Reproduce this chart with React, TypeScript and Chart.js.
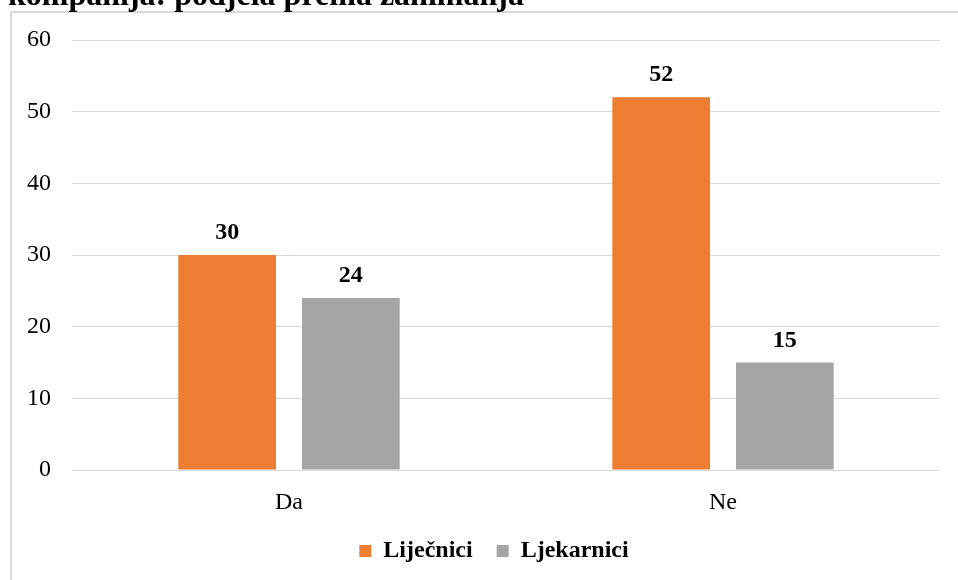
import { useEffect, useRef } from "react";
import { Chart, registerables } from "chart.js";

Chart.register(...registerables);

const titleText = "kompanija: podjela prema zanimanja";
const categories = ["Da", "Ne"];
const seriesNames = ["Liječnici", "Ljekarnici"];
const lijecnici = [30, 52];
const ljekarnici = [24, 15];
const seriesColors = ["#ED7D31", "#A5A5A5"];
const yMin = 0;
const yMax = 60;
const yStep = 10;

const FONT = '"Liberation Serif", "Times New Roman", serif';
const LEGEND_SHIFT = 24;

const framePlugin = {
  id: "frameAndTitle",
  beforeDraw(chart: any) {
    const ctx = chart.ctx;
    ctx.save();
    ctx.fillStyle = "#ffffff";
    ctx.fillRect(0, 0, chart.width, chart.height);
    ctx.strokeStyle = "#d9d9d9";
    ctx.lineWidth = 2;
    ctx.beginPath();
    ctx.moveTo(11, chart.height);
    ctx.lineTo(11, 12);
    ctx.lineTo(chart.width, 12);
    ctx.stroke();
    ctx.fillStyle = "#000000";
    ctx.font = `bold 32px ${FONT}`;
    ctx.textAlign = "left";
    ctx.textBaseline = "alphabetic";
    ctx.fillText(titleText, 8, 5);
    ctx.restore();
  },
};

const legendShiftPlugin = {
  id: "legendShift",
  afterLayout(chart: any) {
    const lg = chart.legend;
    if (lg) {
      lg.left += LEGEND_SHIFT;
      lg.right += LEGEND_SHIFT;
    }
  },
};

const valueLabelPlugin = {
  id: "valueLabels",
  afterDatasetsDraw(chart: any) {
    const ctx = chart.ctx;
    ctx.save();
    ctx.fillStyle = "#000000";
    ctx.font = `bold 24px ${FONT}`;
    ctx.textAlign = "center";
    ctx.textBaseline = "alphabetic";
    chart.data.datasets.forEach((ds: any, di: number) => {
      const meta = chart.getDatasetMeta(di);
      meta.data.forEach((bar: any, i: number) => {
        ctx.fillText(String(ds.data[i]), bar.x, bar.y - 16);
      });
    });
    ctx.restore();
  },
};

export default function App() {
  const ref = useRef<HTMLCanvasElement>(null);

  useEffect(() => {
    if (!ref.current) return;
    const chart = new Chart(ref.current, {
      type: "bar",
      data: {
        labels: categories,
        datasets: [
          {
            label: seriesNames[0],
            data: lijecnici,
            backgroundColor: seriesColors[0],
            categoryPercentage: 0.57,
            barPercentage: 0.79,
          },
          {
            label: seriesNames[1],
            data: ljekarnici,
            backgroundColor: seriesColors[1],
            categoryPercentage: 0.57,
            barPercentage: 0.79,
          },
        ],
      },
      options: {
        responsive: false,
        animation: false,
        layout: { padding: { left: 0, right: 18, top: 40, bottom: 7 } },
        plugins: {
          title: { display: false },
          tooltip: { enabled: false },
          legend: {
            position: "bottom",
            labels: {
              boxWidth: 12,
              boxHeight: 12,
              padding: 24,
              color: "#000000",
              font: { family: FONT, size: 24, weight: "bold" },
            },
          },
        },
        scales: {
          x: {
            grid: { display: false },
            border: { display: false },
            ticks: {
              color: "#000000",
              padding: 10,
              font: { family: FONT, size: 24 },
            },
            afterFit(scale: any) {
              scale.height = 45;
            },
          },
          y: {
            min: yMin,
            max: yMax,
            grid: { color: "#d9d9d9", lineWidth: 1, drawTicks: false },
            border: { display: false },
            ticks: {
              stepSize: yStep,
              color: "#000000",
              padding: 21,
              font: { family: FONT, size: 24 },
            },
            afterFit(scale: any) {
              scale.width = 72;
            },
          },
        },
      },
      plugins: [framePlugin, legendShiftPlugin, valueLabelPlugin],
    });
    return () => chart.destroy();
  }, []);

  return (
    <div style={{ position: "absolute", left: 0, top: 0, width: 958, height: 580, overflow: "hidden" }}>
      <canvas ref={ref} width={958} height={580} style={{ display: "block", width: 958, height: 580 }} />
    </div>
  );
}
